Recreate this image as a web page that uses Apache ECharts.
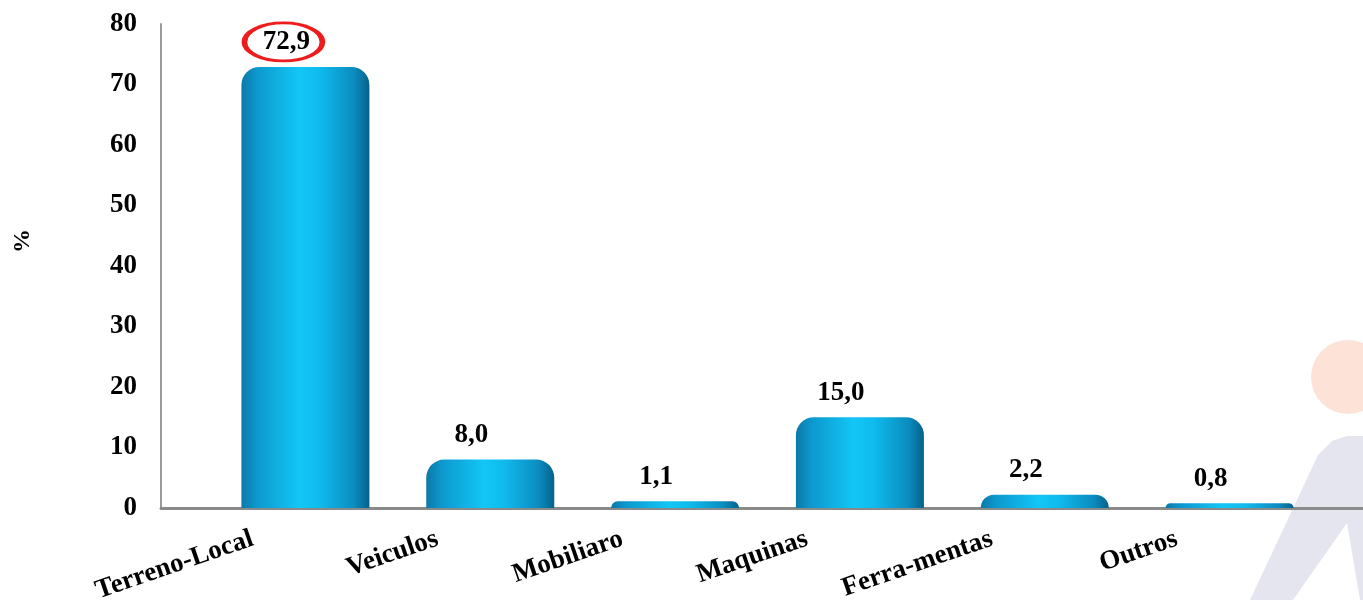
<!DOCTYPE html>
<html><head><meta charset="utf-8">
<script src="https://cdn.jsdelivr.net/npm/echarts@6/dist/echarts.min.js"></script>
<style>html,body{margin:0;padding:0;background:#fff}#c{width:1363px;height:600px}</style>
</head><body><div id="c"></div>
<script>
const categories = ['Terreno-Local','Veiculos','Mobiliaro','Maquinas','Ferra-mentas','Outros'];
const values = [72.9, 8.0, 1.1, 15.0, 2.2, 0.8];
const highlightIndex = 0;
const yMin = 0, yMax = 80, yStep = 10;
const yName = '%';

const font = '"Liberation Serif","Times New Roman",serif';
const chart = echarts.init(document.getElementById('c'));
const barGrad = new echarts.graphic.LinearGradient(0,0,1,0,[
  {offset:0,color:'#0b78a8'},{offset:0.12,color:'#0d98cd'},{offset:0.45,color:'#12c6f6'},
  {offset:0.6,color:'#10bcef'},{offset:0.88,color:'#0b8cbf'},{offset:1,color:'#06618a'}]);
chart.setOption({
  animation:false,
  graphic:[
    {type:'circle',z:-10,shape:{cx:1348,cy:377,r:37},style:{fill:'#fde2d7'}},
    {type:'polygon',z:-10,shape:{points:[[1250,600],[1318,455],[1332,441],[1347,436],[1363,436],[1363,600],[1360,600],[1347,523],[1293,600]]},style:{fill:'#e5e5ef'}}
  ],
  grid:[
    {left:161,right:0,top:24,bottom:92,outerBoundsMode:'none',containLabel:false},
    {left:213,right:41,top:24,bottom:92,outerBoundsMode:'none',containLabel:false}
  ],
  xAxis:[
    {gridIndex:0,type:'value',min:0,max:1,axisLine:{show:true,lineStyle:{color:'#8a8a8a',width:3}},axisTick:{show:false},axisLabel:{show:false},splitLine:{show:false}},
    {gridIndex:1,type:'category',data:categories,axisLine:{show:false},axisTick:{show:false},
     axisLabel:{rotate:19,margin:12,padding:[0,56,0,0],color:'#000',fontFamily:font,fontWeight:'bold',fontSize:27,interval:0}}
  ],
  yAxis:[
    {gridIndex:0,type:'value',min:yMin,max:yMax,interval:yStep,name:yName,nameLocation:'middle',nameRotate:90,nameGap:126,
     nameTextStyle:{color:'#000',fontFamily:font,fontWeight:'bold',fontSize:24,padding:[0,0,0,50]},
     axisLine:{show:true,lineStyle:{color:'#999',width:2}},axisTick:{show:false},splitLine:{show:false},
     axisLabel:{margin:24,color:'#000',fontFamily:font,fontWeight:'bold',fontSize:27}},
    {gridIndex:1,type:'value',min:yMin,max:yMax,interval:yStep,show:false}
  ],
  series:[{
    type:'bar',xAxisIndex:1,yAxisIndex:1,barWidth:128,
    itemStyle:{color:barGrad,borderRadius:[18,18,0,0]},
    label:{show:true,position:'top',distance:11,offset:[-19,0],color:'#000',fontFamily:font,fontWeight:'bold',fontSize:27,
      formatter:p=>p.value.toFixed(1).replace('.',',')},
    data:values,
    markPoint:{
      silent:true,
      data:[{coord:[categories[highlightIndex], values[highlightIndex]],symbol:'circle',symbolSize:[78,38],symbolOffset:[-22,-25],
        itemStyle:{color:'rgba(0,0,0,0)',borderColor:'#ee1c1c',borderWidth:4},label:{show:false}}]
    }
  }]
});
</script></body></html>
